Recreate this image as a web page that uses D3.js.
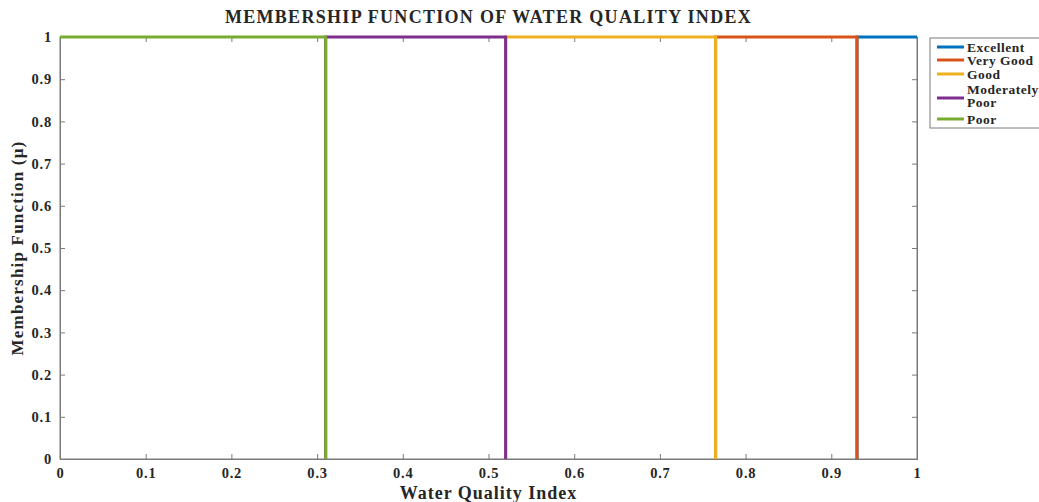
<!DOCTYPE html>
<meta charset="utf-8">
<style>
  body { margin: 0; background: #fff; }
  text { font-family: "Liberation Serif", "Times New Roman", serif; font-weight: bold; fill: #262626; }
</style>
<svg width="1039" height="502"></svg>
<script src="https://d3js.org/d3.v7.min.js"></script>
<script>

// class names and their break points on the index axis
var classes = ['Excellent', 'Very Good', 'Good', 'Moderately Poor', 'Poor'];
var lowEdge  = [0.93, 0.765, 0.52, 0.31, 0];
var highEdge = [1, 0.93, 0.765, 0.52, 0.31];
var colors = ['#0072BD', '#D95319', '#EDB120', '#7E2F8E', '#77AC30'];

var xTicks = [0, 0.1, 0.2, 0.3, 0.4, 0.5, 0.6, 0.7, 0.8, 0.9, 1];
var yTicks = [0, 0.1, 0.2, 0.3, 0.4, 0.5, 0.6, 0.7, 0.8, 0.9, 1];

var svg = d3.select('svg');
var pLeft = 60, pRight = 917, pTop = 37, pBottom = 459;

var x = d3.scaleLinear().domain([0, 1]).range([pLeft, pRight]);
var y = d3.scaleLinear().domain([0, 1]).range([pBottom, pTop]);

// box
svg.append('rect')
  .attr('x', pLeft).attr('y', pTop)
  .attr('width', pRight - pLeft).attr('height', pBottom - pTop)
  .attr('fill', 'none').attr('stroke', '#7a7a7a').attr('stroke-width', 1);

var fmt = function(d){ return d === 0 || d === 1 ? d3.format('d')(d) : d3.format('.1f')(d); };

var xAxis = svg.append('g')
  .attr('transform', 'translate(0,' + pBottom + ')')
  .call(d3.axisBottom(x).tickValues(xTicks).tickSize(-5).tickPadding(9).tickFormat(fmt));
var xTop = svg.append('g')
  .attr('transform', 'translate(0,' + pTop + ')')
  .call(d3.axisTop(x).tickValues(xTicks).tickSize(-5).tickFormat(''));
var yAxis = svg.append('g')
  .attr('transform', 'translate(' + pLeft + ',0)')
  .call(d3.axisLeft(y).tickValues(yTicks).tickSize(-5).tickPadding(8).tickFormat(fmt));
var yRight = svg.append('g')
  .attr('transform', 'translate(' + pRight + ',0)')
  .call(d3.axisRight(y).tickValues(yTicks).tickSize(-5).tickFormat(''));

[xAxis, xTop, yAxis, yRight].forEach(function(g){
  g.select('.domain').attr('stroke', '#7a7a7a');
  g.selectAll('.tick line').attr('stroke', '#7a7a7a');
  g.selectAll('.tick text')
    .style('font-family', '"Liberation Serif", serif')
    .style('font-weight', 'bold')
    .style('font-size', '14.5px')
    .style('letter-spacing', '0.8px')
    .attr('fill', '#262626');
});

// membership lines, last class drawn on top
var line = d3.line().x(function(d){ return x(d[0]); }).y(function(d){ return y(d[1]); });
classes.forEach(function(c, i){
  var pts = [];
  if (lowEdge[i] > 0) pts.push([lowEdge[i], 0]);
  pts.push([lowEdge[i], 1], [highEdge[i], 1]);
  if (highEdge[i] < 1) pts.push([highEdge[i], 0]);
  svg.append('path')
    .attr('d', line(pts))
    .attr('fill', 'none')
    .attr('stroke', colors[i])
    .attr('stroke-width', 3);
});

// title and labels
svg.append('text')
  .attr('x', (pLeft + pRight) / 2).attr('y', 23)
  .attr('text-anchor', 'middle')
  .style('font-size', '18px')
  .style('letter-spacing', '1.3px')
  .attr('fill', '#111')
  .text('MEMBERSHIP FUNCTION OF WATER QUALITY INDEX');

svg.append('text')
  .attr('x', (pLeft + pRight) / 2).attr('y', 499)
  .attr('text-anchor', 'middle')
  .style('font-size', '18px')
  .style('letter-spacing', '1px')
  .text('Water Quality Index');

svg.append('text')
  .attr('transform', 'translate(23,' + ((pTop + pBottom) / 2) + ') rotate(-90)')
  .attr('text-anchor', 'middle')
  .style('font-size', '17px')
  .style('letter-spacing', '1.2px')
  .text('Membership Function (\u03bc)');

// legend
var lg = svg.append('g');
lg.append('rect')
  .attr('x', 930).attr('y', 38).attr('width', 120).attr('height', 90)
  .attr('fill', '#fff').attr('stroke', '#7a7a7a');

var rowY = [47, 60, 74, 98, 119];
classes.forEach(function(c, i){
  lg.append('line')
    .attr('x1', 937).attr('x2', 964)
    .attr('y1', rowY[i]).attr('y2', rowY[i])
    .attr('stroke', colors[i]).attr('stroke-width', 3);
  var words = c === 'Moderately Poor' ? ['Moderately', 'Poor'] : [c];
  var t = lg.append('text')
    .style('font-size', '13.5px')
    .style('letter-spacing', '0.5px')
    .attr('fill', '#111');
  words.forEach(function(w, k){
    t.append('tspan')
      .attr('x', 967)
      .attr('y', rowY[i] + (words.length > 1 ? (k === 0 ? -4 : 9) : 4.5))
      .text(w);
  });
});

</script>
